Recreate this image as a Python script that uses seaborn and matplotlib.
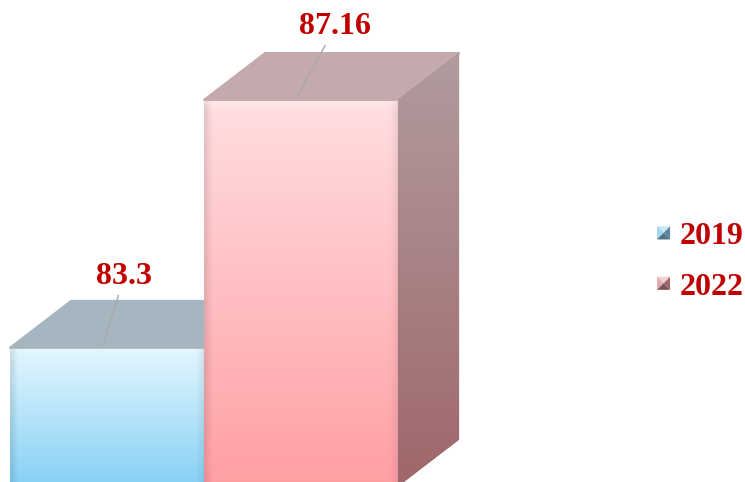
import numpy as np
import pandas as pd
import matplotlib
matplotlib.use("Agg")
import matplotlib.pyplot as plt
import seaborn as sns
from matplotlib.patches import Polygon, Patch
from matplotlib.colors import to_rgb
from matplotlib.legend_handler import HandlerBase

# ---- data ----
years = ["2019", "2022"]
values = [83.3, 87.16]
label_texts = ["83.3", "87.16"]

# ---- styles ----
front_top = ["#E4F7FE", "#FFDEE0"]
front_bottom = ["#86D1F6", "#FF9FA4"]
top_face = ["#A5B6C0", "#C5AAAD"]
side_top = ["#93A6B0", "#B19C9E"]
side_bottom = ["#6B8A98", "#9F676A"]
legend_tones = [("#C4E8F7", "#A2D4EA", "#5F8698", "#4E7282"),
                ("#F0D0D2", "#DDB1B4", "#9A6A6D", "#7E5052")]
label_offsets = [(21, 61), (38, 63)]   # pixels, text baseline relative to bar top centre
text_red = "#C00000"
floor = 81.14
depth_x, depth_y = 0.315, 0.73

df = pd.DataFrame({"year": years, "value": values})

fig = plt.figure(figsize=(7.45, 4.82), dpi=100)
ax = fig.add_axes([0, 0, 1, 1])
sns.barplot(data=df, x="year", y="value", hue="year", palette=front_bottom,
            width=1.0, saturation=1, legend=False, ax=ax)

bars = sorted(ax.patches, key=lambda p: p.get_x())


def vgrad(c_bottom, c_top, n=256, m=64, edge=True):
    b = np.array(to_rgb(c_bottom)); t = np.array(to_rgb(c_top))
    tt = np.linspace(0, 1, n)[:, None, None]
    img = b + (t - b) * tt
    img = np.repeat(img, m, axis=1)
    if edge:
        xs = np.linspace(0, 1, m)
        f = 1 - 0.10 * np.clip(1 - xs / 0.035, 0, 1) - 0.06 * np.clip((xs - 0.965) / 0.035, 0, 1)
        img = img * f[None, :, None]
        band = np.clip(1 - (1 - np.linspace(0, 1, n)) / 0.03, 0, 1)[:, None, None]
        img = img + (1 - img) * 0.35 * band
    return np.clip(img, 0, 1)


for i, p in enumerate(bars):
    z = 2 + 2 * i
    x0, w, h = p.get_x(), p.get_width(), p.get_height()
    p.set_zorder(z)
    p.set_edgecolor("none")
    im = ax.imshow(vgrad(front_bottom[i], front_top[i]), extent=[x0, x0 + w, floor, h],
                   origin="lower", aspect="auto", zorder=z + 0.1, interpolation="bilinear")
    im.set_clip_path(p)
    top = Polygon([(x0, h), (x0 + w, h), (x0 + w + depth_x, h + depth_y), (x0 + depth_x, h + depth_y)],
                  closed=True, facecolor=top_face[i], edgecolor=top_face[i], lw=1.5,
                  joinstyle="round", zorder=z + 0.2)
    ax.add_patch(top)
    side = Polygon([(x0 + w, floor), (x0 + w, h), (x0 + w + depth_x, h + depth_y),
                    (x0 + w + depth_x, floor + depth_y)],
                   closed=True, facecolor=side_bottom[i], edgecolor="none", zorder=z + 0.2)
    ax.add_patch(side)
    ims = ax.imshow(vgrad(side_bottom[i], side_top[i], edge=False),
                    extent=[x0 + w, x0 + w + depth_x, floor, h + depth_y],
                    origin="lower", aspect="auto", zorder=z + 0.3, interpolation="bilinear")
    ims.set_clip_path(side)
    ox, oy = label_offsets[i]
    ax.annotate(label_texts[i], xy=(x0 + w / 2 - 0.02, h + 0.04),
                xytext=(ox, oy), textcoords="offset pixels", ha="center", va="baseline",
                fontsize=23, fontweight="bold", family="Liberation Serif", color=text_red,
                arrowprops=dict(arrowstyle="-", color="#A9A9A9", lw=1.0, shrinkA=1, shrinkB=0),
                zorder=20)

ax.set_xlim(-0.5515, 3.289)
ax.set_ylim(81.21, 88.716)
ax.axis("off")


class BevelHandler(HandlerBase):
    def __init__(self, tones):
        super().__init__()
        self.tones = tones

    def create_artists(self, legend, orig_handle, xdescent, ydescent, width, height, fontsize, trans):
        s = min(width, height)
        x0 = -xdescent + (width - s) / 2
        y0 = -ydescent + (height - s) / 2
        cx, cy = x0 + s / 2, y0 + s / 2
        top, left, right, bottom = self.tones
        pts = {
            "top": [(x0, y0 + s), (x0 + s, y0 + s), (cx, cy)],
            "left": [(x0, y0), (x0, y0 + s), (cx, cy)],
            "right": [(x0 + s, y0), (x0 + s, y0 + s), (cx, cy)],
            "bottom": [(x0, y0), (x0 + s, y0), (cx, cy)],
        }
        arts = []
        for key, col in zip(["top", "left", "right", "bottom"], [top, left, right, bottom]):
            tri = Polygon(pts[key], closed=True, facecolor=col, edgecolor="none", transform=trans)
            arts.append(tri)
        return arts


handles = [Patch(facecolor=front_bottom[i], label=years[i]) for i in range(len(years))]
hmap = {handles[i]: BevelHandler(legend_tones[i]) for i in range(len(years))}
leg = ax.legend(handles=handles, labels=years, handler_map=hmap,
                loc="center left", bbox_to_anchor=(657 / 745, 1 - 262 / 482),
                bbox_transform=fig.transFigure, frameon=False, borderpad=0, borderaxespad=0,
                handlelength=0.41, handleheight=0.41, handletextpad=0.3, labelspacing=0.67,
                prop=dict(family="Liberation Serif", weight="bold", size=23), labelcolor=text_red)

fig.savefig("out.png", dpi=100)
